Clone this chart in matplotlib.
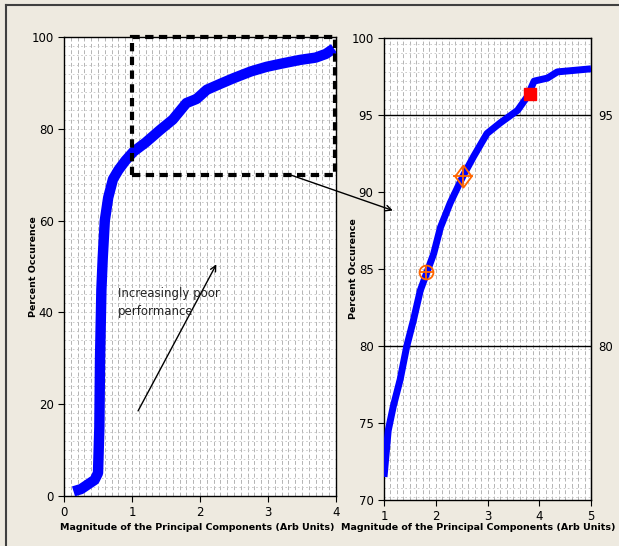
import matplotlib.pyplot as plt
from matplotlib.lines import Line2D
from matplotlib.patches import ConnectionPatch, Rectangle
from matplotlib.ticker import MultipleLocator

# left panel: full cumulative curve
left_x = [0.14, 0.25, 0.35, 0.45, 0.50, 0.52, 0.53, 0.55, 0.57, 0.60, 0.65, 0.72,
          0.80, 0.90, 1.02, 1.20, 1.41, 1.60, 1.80, 1.95, 2.10, 2.30, 2.49, 2.75,
          2.98, 3.20, 3.47, 3.70, 3.85, 3.97]
left_y = [1.0, 1.5, 2.5, 3.5, 5.0, 15, 30, 45, 52, 60, 65, 69,
          71, 73, 75, 77, 79.7, 82, 85.6, 86.5, 88.5, 89.8, 91, 92.5,
          93.5, 94.2, 95, 95.5, 96.3, 97.5]

# right panel: zoom of the 70-100 region
right_x = [1.00, 1.08, 1.18, 1.31, 1.44, 1.57, 1.70, 1.82, 1.96, 2.09, 2.28, 2.53,
           2.73, 2.99, 3.25, 3.58, 3.77, 3.90, 4.16, 4.35, 4.68, 5.00]
right_y = [71.5, 74.5, 76.1, 77.8, 80.0, 81.7, 83.6, 84.7, 86.0, 87.7, 89.3, 91.06,
           92.3, 93.8, 94.5, 95.3, 96.2, 97.2, 97.4, 97.8, 97.9, 98.0]
ref_levels = [80, 95]
circle_pt = (1.82, 84.8)
diamond_pt = (2.53, 91.06)
square_pt = (3.83, 96.34)

bg = '#EEEAE0'
narrow = ['Liberation Sans Narrow', 'DejaVu Sans']
label_font = dict(family='DejaVu Sans', weight='bold', size=6.8)
tall_diamond = [(0, 1), (0.74, 0), (0, -1), (-0.74, 0), (0, 1)]

fig = plt.figure(figsize=(6.19, 5.46), dpi=100, facecolor=bg)
fig.add_artist(Line2D([0.0097, 0.0097], [0, 0.99], color='#404040', lw=1.5))
fig.add_artist(Line2D([0.0097, 1.0], [0.99, 0.99], color='#404040', lw=1.5))

ax1 = fig.add_axes([0.1034, 0.0916, 0.4394, 0.8407])
ax2 = fig.add_axes([0.6204, 0.0842, 0.3344, 0.8462])


def texture(ax, dx, dy):
    ax.xaxis.set_minor_locator(MultipleLocator(dx))
    ax.yaxis.set_minor_locator(MultipleLocator(dy))
    ax.grid(True, which='both', axis='x', color='#b4b4b4', lw=0.7,
            dashes=(4, 2.5), zorder=0)
    ax.grid(True, which='both', axis='y', color='#c4c4c4', lw=0.6,
            dashes=(2, 3), zorder=0)
    ax.tick_params(which='minor', length=0)
    ax.tick_params(which='major', length=4, width=0.8, labelsize=8.5)
    for lab in ax.get_xticklabels() + ax.get_yticklabels():
        lab.set_family(narrow)
    ax.set_axisbelow(True)


# left plot
ax1.plot(left_x, left_y, color='#0000FF', lw=7.5, solid_capstyle='butt', zorder=3)
ax1.set_xlim(0, 4)
ax1.set_ylim(0, 100)
ax1.set_xticks([0, 1, 2, 3, 4])
ax1.set_yticks([0, 20, 40, 60, 80, 100])
texture(ax1, 0.1, 2)
ax1.add_patch(Rectangle((1.0, 70), 2.99, 30, fill=False, edgecolor='black',
                        lw=3, linestyle=(0, (2, 1.3)), zorder=5, clip_on=False))
ax1.annotate('', xy=(2.26, 51), xytext=(1.07, 18),
             arrowprops=dict(arrowstyle='->', color='black', lw=1))
ax1.text(0.79, 45.5, 'Increasingly poor\nperformance', family=narrow, size=8.5,
         va='top', ha='left', linespacing=1.5, color='#222222')
ax1.set_xlabel('Magnitude of the Principal Components (Arb Units)', **label_font)
ax1.set_ylabel('Percent Occurence', **label_font)
ax1.xaxis.set_label_coords(0.49, -0.059)
ax1.yaxis.set_label_coords(-0.096, 0.5)

# right plot
ax2.plot(right_x, right_y, color='#0000FF', lw=5, solid_capstyle='butt', zorder=3)
for lvl in ref_levels:
    ax2.axhline(lvl, color='black', lw=1, zorder=2)
ax2.plot(*circle_pt, marker='o', ms=10, mfc='none', mec='#FF6600', mew=1.3, zorder=4)
ax2.plot(*circle_pt, marker='+', ms=10, mec='#FF6600', mew=1.3, zorder=4)
ax2.plot(*diamond_pt, marker=tall_diamond, ms=16, mfc='none', mec='#FF6600',
         mew=1.3, zorder=4)
ax2.plot(*diamond_pt, marker='+', ms=14, mec='#FF6600', mew=1.3, zorder=4)
ax2.plot(*square_pt, marker='s', ms=9, color='#FF0000', zorder=4)
ax2.set_xlim(1, 5)
ax2.set_ylim(70, 100)
ax2.set_xticks([1, 2, 3, 4, 5])
ax2.set_yticks([70, 75, 80, 85, 90, 95, 100])
texture(ax2, 0.125, 0.6)
sec = ax2.secondary_yaxis('right')
sec.set_yticks(ref_levels)
sec.tick_params(length=0, pad=5, labelsize=8.5)
for lab in sec.get_yticklabels():
    lab.set_family(narrow)
ax2.set_xlabel('Magnitude of the Principal Components (Arb Units)', **label_font)
ax2.set_ylabel('Percent Occurence', **label_font)
ax2.xaxis.set_label_coords(0.455, -0.05)
ax2.yaxis.set_label_coords(-0.125, 0.5)

for ax in (ax1, ax2):
    for s in ax.spines.values():
        s.set_linewidth(1)

con = ConnectionPatch(xyA=(3.32, 70), coordsA=ax1.transData,
                      xyB=(1.17, 88.8), coordsB=ax2.transData,
                      arrowstyle='->', color='black', lw=1, zorder=6)
fig.add_artist(con)

fig.savefig('out.png', dpi=100, facecolor=bg)
